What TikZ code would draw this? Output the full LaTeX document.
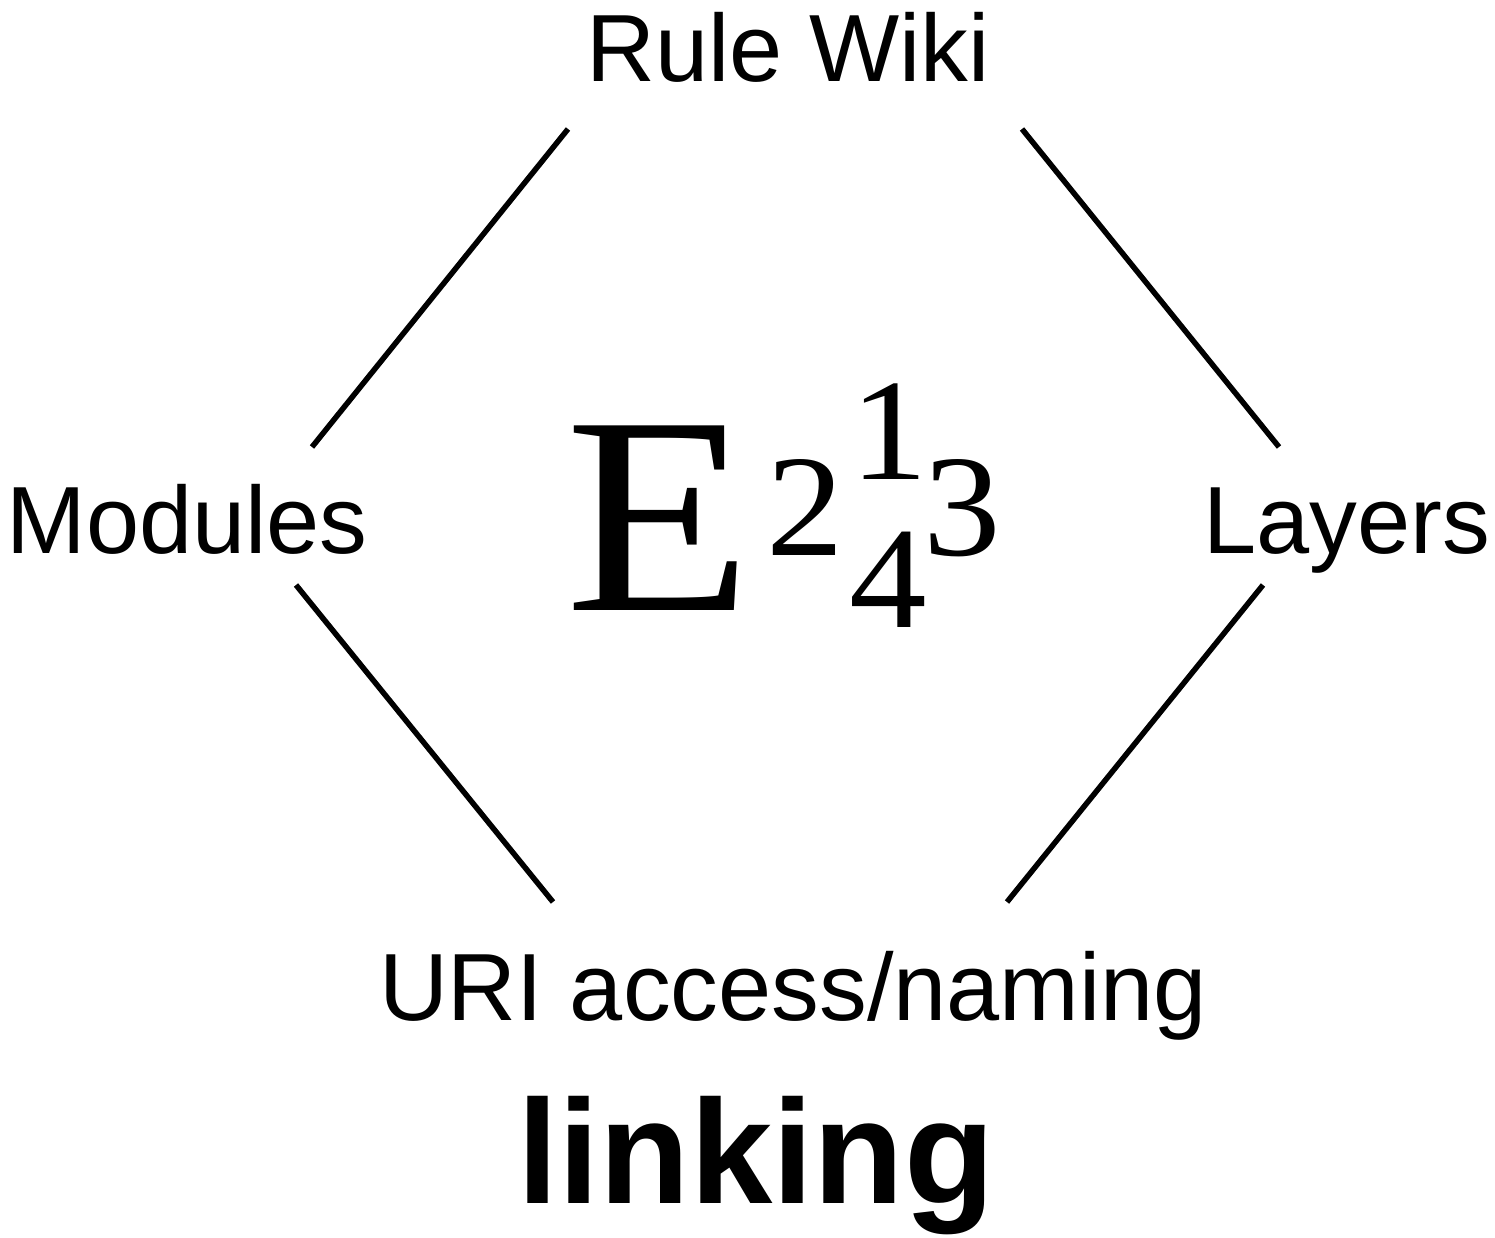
\documentclass[tikz,border=0pt]{standalone}
\usepackage{fontspec}
\setmainfont{Liberation Sans}
\newfontfamily\serifE{Liberation Serif}
\begin{document}
\begin{tikzpicture}[x=1pt,y=-1pt,
  lbl/.style={anchor=base,inner sep=0pt,font=\fontsize{95.5}{100}\selectfont},
  big/.style={anchor=base,inner sep=0pt,font=\serifE\fontsize{282}{290}\selectfont},
  idx/.style={anchor=base,inner sep=0pt,font=\serifE\fontsize{145}{150}\selectfont},
  edge/.style={line width=5.5pt,black}]
\useasboundingbox (0,0) rectangle (1495,1238);
\node[lbl] (wiki) at (788,82) {Rule Wiki};
\node[lbl] (mod) at (187,553) {Modules};
\node[lbl] (lay) at (1347,553) {Layers};
\node[lbl] (uri) at (793,1020) {URI access/naming};
\node[anchor=base,inner sep=0pt,font=\bfseries\fontsize{148}{160}\selectfont] (link) at (756,1203) {linking};
\node[big] (E) at (659,610) {\scalebox{1.085}[1]{E}};
\node[idx] (s2) at (805,555) {\scalebox{1.07}[1]{2}};
\node[idx] (s1) at (889,479) {\scalebox{1.07}[1]{1}};
\node[idx] (s4) at (888,627) {\scalebox{1.07}[1]{4}};
\node[idx] (s3) at (962,555) {\scalebox{1.07}[1]{3}};
\coordinate (a1) at (568,129); \coordinate (a2) at (312,447);
\coordinate (b1) at (1022,129); \coordinate (b2) at (1279,447);
\coordinate (c1) at (296,585); \coordinate (c2) at (553,902);
\coordinate (d1) at (1263,585); \coordinate (d2) at (1007,902);
\draw[edge] (a1) -- (a2);
\draw[edge] (b1) -- (b2);
\draw[edge] (c1) -- (c2);
\draw[edge] (d1) -- (d2);
\end{tikzpicture}
\end{document}
